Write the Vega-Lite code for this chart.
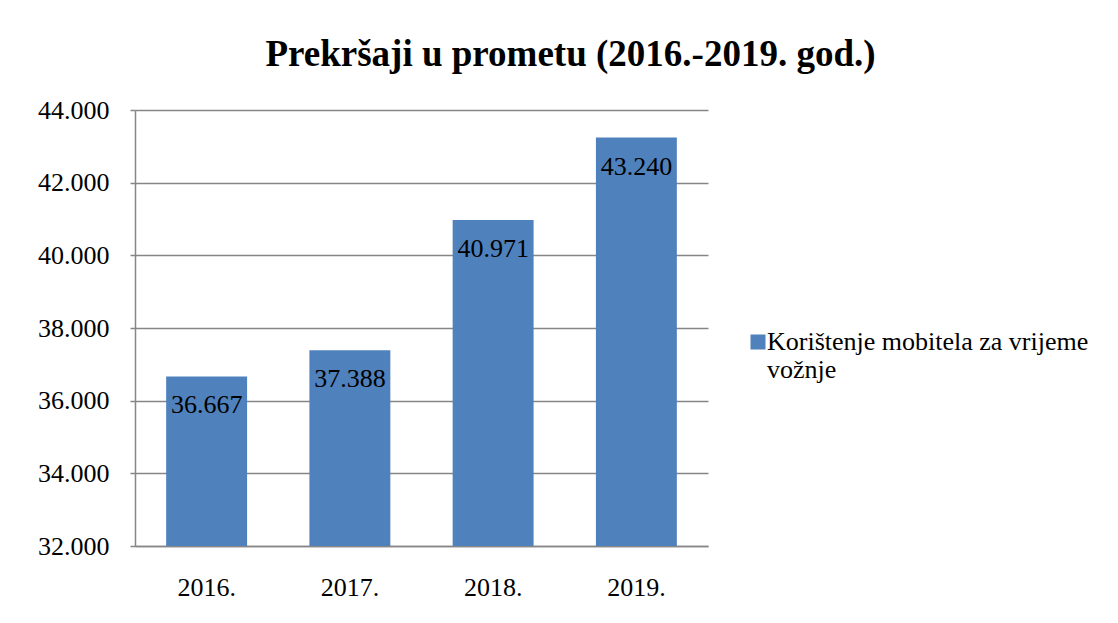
{
  "$schema": "https://vega.github.io/schema/vega-lite/v6.json",
  "width": 573,
  "height": 436,
  "autosize": {"type": "none"},
  "padding": {"left": 135, "top": 110, "right": 410, "bottom": 77},
  "background": "white",
  "title": {
    "text": "Prekršaji u prometu (2016.-2019. god.)",
    "font": "Liberation Serif, Times New Roman, serif",
    "fontSize": 37,
    "fontWeight": "bold",
    "color": "#000000",
    "anchor": "middle",
    "frame": "group",
    "dx": 149,
    "dy": 48,
    "baseline": "alphabetic",
    "offset": 42
  },
  "data": {
    "values": [
      {"godina": "2016.", "broj": 36667, "serija": "Korištenje mobitela za vrijeme vožnje"},
      {"godina": "2017.", "broj": 37388, "serija": "Korištenje mobitela za vrijeme vožnje"},
      {"godina": "2018.", "broj": 40971, "serija": "Korištenje mobitela za vrijeme vožnje"},
      {"godina": "2019.", "broj": 43240, "serija": "Korištenje mobitela za vrijeme vožnje"}
    ]
  },
  "encoding": {
    "x": {
      "field": "godina",
      "type": "nominal",
      "sort": null,
      "scale": {"paddingInner": 0.435, "paddingOuter": 0.2175},
      "axis": {
        "title": null,
        "labelAngle": 0,
        "labelFont": "Liberation Serif, Times New Roman, serif",
        "labelFontSize": 26,
        "labelColor": "#000000",
        "labelPadding": 28,
        "ticks": false,
        "domainColor": "#868686",
        "domainWidth": 1.5,
        "grid": false
      }
    },
    "y": {
      "field": "broj",
      "type": "quantitative",
      "scale": {"domain": [32000, 44000], "zero": false, "nice": false},
      "axis": {
        "title": null,
        "values": [32000, 34000, 36000, 38000, 40000, 42000, 44000],
        "format": ",d",
        "labelFont": "Liberation Serif, Times New Roman, serif",
        "labelFontSize": 26,
        "labelColor": "#000000",
        "labelPadding": 21,
        "tickSize": 5,
        "tickColor": "#868686",
        "tickWidth": 1.5,
        "domainColor": "#868686",
        "domainWidth": 1.5,
        "grid": true,
        "gridColor": "#868686",
        "gridWidth": 1.5
      }
    }
  },
  "layer": [
    {
      "mark": {"type": "bar", "color": "#4F81BD", "clip": true},
      "encoding": {
        "color": {
          "field": "serija",
          "type": "nominal",
          "scale": {"range": ["#4F81BD"]},
          "legend": {
            "title": null,
            "orient": "none",
            "legendX": 610,
            "legendY": 219,
            "padding": 0,
            "symbolType": "square",
            "symbolSize": 225,
            "symbolStrokeWidth": 0,
            "labelFont": "Liberation Serif, Times New Roman, serif",
            "labelFontSize": 26,
            "labelColor": "#000000",
            "labelOffset": -4,
            "labelLimit": 400,
            "labelExpr": "['Korištenje mobitela za vrijeme', 'vožnje']"
          }
        }
      }
    },
    {
      "mark": {
        "type": "text",
        "font": "Liberation Serif, Times New Roman, serif",
        "fontSize": 26,
        "color": "#000000",
        "baseline": "alphabetic",
        "dy": 37
      },
      "encoding": {
        "text": {"field": "broj", "type": "quantitative", "format": ",d"}
      }
    }
  ],
  "config": {
    "view": {"stroke": null},
    "locale": {
      "number": {"decimal": ",", "thousands": ".", "grouping": [3], "currency": ["", " kn"]}
    }
  }
}
